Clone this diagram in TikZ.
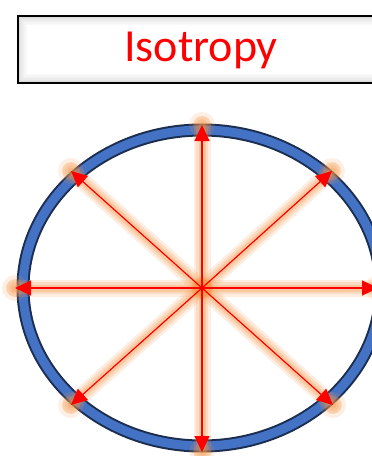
\documentclass[tikz,border=0pt]{standalone}
\usepackage{fontspec}
\setmainfont{Carlito}
\usetikzlibrary{arrows.meta}
\definecolor{ringblue}{HTML}{4472C4}
\definecolor{ringdark}{HTML}{1C2E50}
\definecolor{glow}{HTML}{F79646}
\tikzset{
  glowA/.style={draw=glow, line width=17pt, opacity=0.16, line cap=round},
  glowB/.style={draw=glow, line width=12pt, opacity=0.2, line cap=round},
  glowC/.style={draw=glow, line width=7pt, opacity=0.28, line cap=round},
  ray/.style={draw=red, line width=1.2pt, -{Triangle[length=16pt,width=15pt]}, fill=red},
}
\begin{document}
\begin{tikzpicture}[x=1pt,y=-1pt]
\useasboundingbox (0,0) rectangle (372,456);
\clip (0,0) rectangle (372,456);
\fill[white] (0,0) rectangle (372,456);
% title box
\fill[white] (18,16) rectangle (390,83);
\foreach \k/\o in {1/0.2,2.5/0.15,4/0.11,5.5/0.08,7/0.05,8.5/0.03}{
  \draw[black!70, line width=1.6pt, opacity=\o] (18+\k,16+\k) rectangle (390-\k,83-\k);
}
\draw[black, line width=1.5pt] (18,16) rectangle (390,83);
\node (title) [text=red, font=\fontsize{46}{50}\selectfont] at (201,50) {Isotropy};
% ring
\coordinate (c) at (202,288);
\draw[ringdark, line width=13pt] (c) ellipse [x radius=179, y radius=158];
\draw[ringblue, line width=9pt] (c) ellipse [x radius=179, y radius=158];
% endpoints
\coordinate (n) at (202,125);
\coordinate (s) at (202,452);
\coordinate (w) at (15,288);
\coordinate (e) at (378,288);
\coordinate (nw) at (71,171);
\coordinate (ne) at (332,171);
\coordinate (sw) at (71,405);
\coordinate (se) at (333,405);
% glow
\foreach \p in {n,s,w,e,nw,ne,sw,se}{
  \draw[glowA] (c) -- (\p);
  \draw[glowB] (c) -- (\p);
  \draw[glowC] (c) -- (\p);
  \fill[glow, opacity=0.22] (\p) circle (9);
  \fill[glow, opacity=0.15] (\p) circle (13);
}
\fill[glow, opacity=0.35] (c) circle (11);
\fill[glow, opacity=0.4] (c) circle (6);
% rays
\foreach \p in {n,s,w,e,nw,ne,sw,se}{
  \draw[ray] (c) -- (\p);
}
\end{tikzpicture}
\end{document}
